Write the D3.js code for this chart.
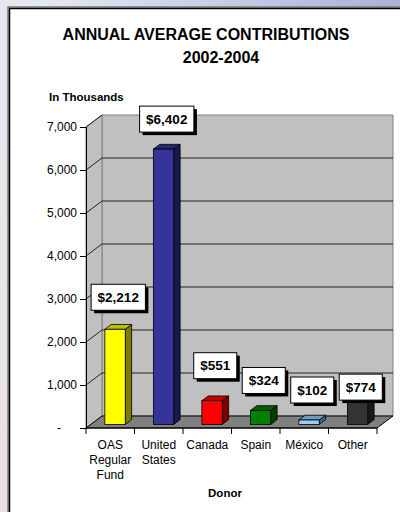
<!DOCTYPE html>
<html>
<head>
<meta charset="utf-8">
<script src="https://cdn.jsdelivr.net/npm/d3@7"></script>
<style>
  html, body { margin: 0; padding: 0; }
  body { width: 400px; height: 512px; overflow: hidden; }
  text { font-family: "Liberation Sans", Arial, sans-serif; }
</style>
</head>
<body>
<svg width="400" height="512"></svg>
<script>
// chart data
const donors = ["OAS Regular Fund", "United States", "Canada", "Spain", "México", "Other"];
const contributions = [2212, 6402, 551, 324, 102, 774];
const yTicks = [0, 1000, 2000, 3000, 4000, 5000, 6000, 7000];
const barColors = ["#ffff00", "#333399", "#ff0000", "#008000", "#99ccff", "#333333"];

// how far each value box sits above its bar (px)
const labelLift = [19, 17, 22, 17, 17, -9];

const svg = d3.select("svg");

// page background + white panel
const defs = svg.append("defs");
const grad = defs.append("linearGradient")
  .attr("id", "bg")
  .attr("x1", "100%").attr("y1", "0%")
  .attr("x2", "0%").attr("y2", "100%");
grad.append("stop").attr("offset", "0%").attr("stop-color", "#a9b2d8");
grad.append("stop").attr("offset", "45%").attr("stop-color", "#e4e8f2");
grad.append("stop").attr("offset", "100%").attr("stop-color", "#ebe2e0");

svg.append("rect").attr("width", 400).attr("height", 512).attr("fill", "url(#bg)");
svg.append("rect")
  .attr("x", 8).attr("y", 7).attr("width", 400).attr("height", 520)
  .attr("fill", "none").attr("stroke", "#7a7a7a").attr("stroke-width", 1.5);
svg.append("rect")
  .attr("x", 9.5).attr("y", 8.5).attr("width", 400).attr("height", 520)
  .attr("fill", "#fff").attr("stroke", "#000").attr("stroke-width", 1.5);

// 3d frame
const DX = 16, DY = -12;      // wall depth
const t0 = 0.3, t1 = 0.7;     // bar depth inside the floor

const x = d3.scaleBand().domain(donors).range([86, 377]).padding(0);
const y = d3.scaleLinear().domain([0, 7000]).range([428, 127]);

const xL = 86, xR = 377, y0 = y(0), yTop = y(7000);
const line = d3.line();
const g = svg.append("g");

// back wall
g.append("path")
  .attr("d", line([[xL + DX, yTop + DY], [xR + DX, yTop + DY], [xR + DX, y0 + DY], [xL + DX, y0 + DY]]) + "Z")
  .attr("fill", "#c0c0c0").attr("stroke", "#808080");
// side wall
g.append("path")
  .attr("d", line([[xL, yTop], [xL + DX, yTop + DY], [xL + DX, y0 + DY], [xL, y0]]) + "Z")
  .attr("fill", "#c0c0c0").attr("stroke", "#808080");
// floor
g.append("path")
  .attr("d", line([[xL, y0], [xR, y0], [xR + DX, y0 + DY], [xL + DX, y0 + DY]]) + "Z")
  .attr("fill", "#808080").attr("stroke", "#000");

// gridlines
const grid = yTicks.filter(d => d > 0);
g.selectAll(".hgrid")
  .data(grid.filter(d => d < 7000))
  .enter().append("line")
  .attr("x1", xL + DX).attr("x2", xR + DX)
  .attr("y1", d => y(d) + DY).attr("y2", d => y(d) + DY)
  .attr("stroke", "#222").attr("stroke-width", 1);
g.selectAll(".dgrid")
  .data(grid)
  .enter().append("line")
  .attr("x1", xL).attr("x2", xL + DX)
  .attr("y1", d => y(d)).attr("y2", d => y(d) + DY)
  .attr("stroke", "#222").attr("stroke-width", 1);

// value axis
const yAxis = d3.axisLeft(y)
  .tickValues(yTicks)
  .tickSize(6)
  .tickPadding(3)
  .tickFormat(d => d === 0 ? "-" : d3.format(",")(d));
const ya = svg.append("g").attr("transform", `translate(${xL},0)`).call(yAxis);
ya.select(".domain").attr("stroke", "#000");
ya.selectAll("text")
  .attr("font-size", 12)
  .attr("fill", "#000")
  .attr("font-family", "'Liberation Sans', Arial, sans-serif")
  .attr("dx", d => d === 0 ? -16 : 0);

// category axis
const xa = svg.append("g").attr("transform", `translate(0,${y0})`);
xa.append("line").attr("x1", xL).attr("x2", xR).attr("stroke", "#000");
xa.selectAll(".tk")
  .data(donors.map(d => x(d)).concat([xR]))
  .enter().append("line")
  .attr("x1", d => d).attr("x2", d => d)
  .attr("y1", 0).attr("y2", 6)
  .attr("stroke", "#000");

xa.selectAll(".cat")
  .data(donors)
  .enter().append("text")
  .attr("x", d => x(d) + x.bandwidth() / 2)
  .attr("y", 21)
  .attr("text-anchor", "middle")
  .attr("font-size", 12)
  .each(function (d) {
    d.split(" ").forEach((w, i) => {
      d3.select(this).append("tspan")
        .attr("x", x(d) + x.bandwidth() / 2)
        .attr("dy", i === 0 ? 0 : 15)
        .text(w);
    });
  });

// bars
const barW = x.bandwidth() * 0.42;
const ddx = DX * (t1 - t0), ddy = DY * (t1 - t0);

const bars = contributions.map((v, i) => {
  const bx = x(donors[i]) + (x.bandwidth() - barW) / 2 + DX * t0;
  return {
    v, i,
    bx,
    base: y(0) + DY * t0,
    top: y(v) + DY * t0,
    color: d3.color(barColors[i])
  };
});

const bar = svg.append("g").selectAll("g").data(bars).enter().append("g");

bar.append("path") // side
  .attr("d", d => line([[d.bx + barW, d.top], [d.bx + barW + ddx, d.top + ddy],
                        [d.bx + barW + ddx, d.base + ddy], [d.bx + barW, d.base]]) + "Z")
  .attr("fill", d => d.color.darker(2))
  .attr("stroke", "#000").attr("stroke-width", 0.8);
bar.append("path") // top
  .attr("d", d => line([[d.bx, d.top], [d.bx + ddx, d.top + ddy],
                        [d.bx + barW + ddx, d.top + ddy], [d.bx + barW, d.top]]) + "Z")
  .attr("fill", d => d.color.darker(0.8))
  .attr("stroke", "#000").attr("stroke-width", 0.8);
bar.append("rect") // front
  .attr("x", d => d.bx).attr("y", d => d.top)
  .attr("width", barW).attr("height", d => d.base - d.top)
  .attr("fill", d => d.color)
  .attr("stroke", "#000").attr("stroke-width", 0.8);

// value boxes
const lab = svg.append("g").selectAll("g").data(bars).enter().append("g");
lab.append("text")
  .attr("font-size", 13.5)
  .attr("font-weight", "bold")
  .attr("text-anchor", "middle")
  .text(d => "$" + d3.format(",")(d.v));

lab.each(function (d) {
  const gg = d3.select(this);
  const tw = gg.select("text").node().getComputedTextLength();
  const w = tw + 13, h = 26;
  const cx = d.bx + (barW + ddx) / 2;
  const bottom = d.top - labelLift[d.i];
  gg.insert("rect", "text")
    .attr("x", cx - w / 2 + 3).attr("y", bottom - h + 3)
    .attr("width", w).attr("height", h).attr("fill", "#000");
  gg.insert("rect", "text")
    .attr("x", cx - w / 2).attr("y", bottom - h)
    .attr("width", w).attr("height", h)
    .attr("fill", "#fff").attr("stroke", "#000").attr("stroke-width", 1);
  gg.select("text").attr("x", cx).attr("y", bottom - h / 2 + 4.5);
});

// titles
svg.append("text")
  .attr("x", 206).attr("y", 40)
  .attr("text-anchor", "middle")
  .attr("font-size", 16).attr("font-weight", "bold")
  .text("ANNUAL AVERAGE CONTRIBUTIONS");
svg.append("text")
  .attr("x", 221).attr("y", 62.5)
  .attr("text-anchor", "middle")
  .attr("font-size", 16).attr("font-weight", "bold")
  .text("2002-2004");
svg.append("text")
  .attr("x", 49).attr("y", 101)
  .attr("font-size", 11.5).attr("font-weight", "bold")
  .text("In Thousands");
svg.append("text")
  .attr("x", 225).attr("y", 496.5)
  .attr("text-anchor", "middle")
  .attr("font-size", 11.5).attr("font-weight", "bold")
  .text("Donor");
</script>
</body>
</html>
